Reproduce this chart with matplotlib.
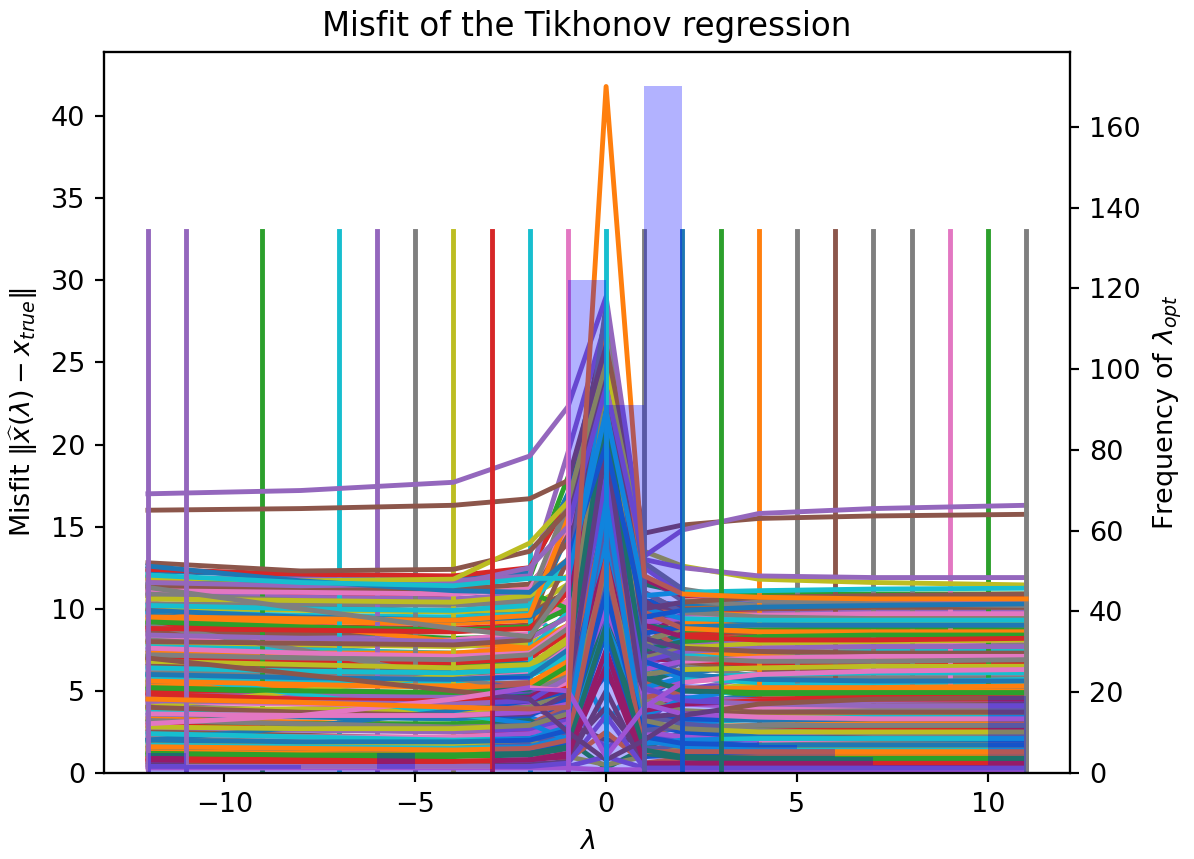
import matplotlib
matplotlib.use("Agg")
import matplotlib.pyplot as plt

plt.rcParams["lines.linewidth"] = 1.8

# lambda sample points of the misfit curves
lam_pts = [-12, -8, -4, -2, -1, 0, 1, 2, 4, 7, 11]

# prominent curves (value at each lam_pts)
purple_top = [17.0, 17.2, 17.7, 19.3, 22.3, 29.0, 13.2, 14.8, 15.8, 16.1, 16.3]
brown_top = [16.0, 16.1, 16.3, 16.7, 17.8, 26.0, 14.6, 15.1, 15.5, 15.65, 15.75]
brown_second = [12.8, 12.3, 12.4, 13.5, 16.0, 24.0, 10.0, 10.4, 10.7, 10.8, 10.9]
olive_upper = [11.9, 11.7, 11.8, 14.0, 16.5, 25.0, 13.5, 12.6, 11.8, 11.6, 11.45]
purple_right = [11.6, 11.4, 11.5, 12.5, 15.0, 23.5, 13.0, 12.5, 12.0, 11.9, 11.9]
cyan_flat = [12.05, 11.6, 11.4, 11.85, 11.85, 22.0, 10.8, 11.0, 11.1, 11.2, 11.25]
blue_upper = [12.6, 11.7, 11.1, 11.0, 13.0, 20.0, 9.5, 9.9, 10.1, 10.2, 10.3]
orange_spike = [4.5, 4.3, 4.0, 3.9, 4.0, 41.8, 12.0, 10.9, 10.7, 10.6, 10.6]

# the bulk of the misfit curves
bulk_curves = [
    [12.3, 12.0, 11.9, 12.2, 17.0, 27.0, 10.5, 10.2, 10.4, 10.5, 10.6],
    [11.8, 11.3, 11.0, 11.3, 13.0, 20.5, 9.8, 10.0, 10.1, 10.2, 10.2],
    [11.5, 11.6, 11.6, 11.9, 18.0, 23.0, 11.5, 11.0, 10.9, 10.9, 10.9],
    [11.2, 10.9, 10.6, 10.5, 9.5, 14.0, 8.5, 9.5, 9.9, 10.0, 10.0],
    [11.0, 10.7, 10.6, 10.9, 15.5, 25.5, 9.0, 9.6, 9.7, 9.8, 9.8],
    [10.8, 10.2, 9.8, 9.9, 11.0, 18.0, 7.0, 8.2, 8.8, 9.2, 9.4],
    [10.4, 9.2, 7.9, 7.3, 8.5, 21.0, 6.5, 7.5, 8.0, 8.3, 8.5],
    [10.3, 10.3, 10.2, 10.4, 16.0, 26.5, 12.0, 10.5, 10.2, 10.1, 10.1],
    [10.0, 9.9, 9.8, 10.0, 11.5, 19.5, 8.0, 9.0, 9.3, 9.4, 9.5],
    [9.8, 9.6, 9.5, 9.7, 8.0, 3.0, 6.0, 8.5, 9.0, 9.1, 9.2],
    [9.6, 9.3, 9.2, 9.4, 14.5, 22.0, 9.5, 9.3, 9.2, 9.2, 9.2],
    [9.3, 9.2, 9.1, 9.3, 10.5, 16.5, 10.0, 9.2, 8.9, 8.8, 8.8],
    [9.1, 8.6, 8.2, 8.3, 9.5, 24.5, 7.8, 8.4, 8.6, 8.7, 8.7],
    [8.9, 8.9, 8.8, 9.0, 10.0, 12.0, 8.8, 8.5, 8.5, 8.5, 8.5],
    [8.7, 8.4, 8.0, 7.8, 7.0, 15.0, 7.0, 7.8, 8.1, 8.2, 8.3],
    [8.5, 8.5, 8.6, 9.0, 15.0, 28.0, 10.5, 8.9, 8.4, 8.2, 8.1],
    [8.3, 8.1, 8.1, 8.5, 10.5, 20.0, 6.5, 7.5, 7.8, 7.9, 8.0],
    [8.1, 7.6, 7.2, 7.3, 6.0, 9.0, 5.5, 6.8, 7.3, 7.6, 7.8],
    [7.9, 7.8, 7.7, 7.9, 9.0, 17.5, 8.0, 7.7, 7.6, 7.6, 7.6],
    [7.7, 7.5, 7.3, 7.5, 9.8, 23.5, 7.3, 7.2, 7.3, 7.4, 7.4],
    [7.5, 7.1, 6.8, 6.7, 5.0, 11.0, 4.5, 6.0, 6.7, 7.0, 7.2],
    [7.3, 7.3, 7.3, 7.6, 8.5, 14.5, 9.0, 7.5, 7.1, 7.0, 7.0],
    [7.1, 6.8, 6.5, 6.6, 8.0, 21.5, 5.5, 6.3, 6.6, 6.7, 6.8],
    [6.9, 6.8, 6.7, 7.0, 8.5, 26.0, 7.0, 6.8, 6.6, 6.6, 6.6],
    [6.7, 6.3, 5.9, 5.8, 4.0, 1.5, 3.0, 5.0, 5.9, 6.2, 6.4],
    [6.5, 6.4, 6.3, 6.5, 7.5, 13.0, 7.5, 6.6, 6.3, 6.2, 6.2],
    [6.3, 6.0, 5.8, 6.0, 7.8, 18.5, 5.0, 5.6, 5.8, 5.9, 6.0],
    [6.1, 6.1, 6.0, 6.3, 8.0, 22.5, 8.5, 6.5, 5.9, 5.8, 5.8],
    [5.9, 5.6, 5.4, 5.5, 6.5, 10.0, 4.0, 5.0, 5.4, 5.5, 5.6],
    [5.7, 5.6, 5.6, 5.9, 7.0, 16.0, 6.5, 5.8, 5.5, 5.4, 5.4],
    [5.5, 5.1, 4.8, 4.8, 3.0, 6.0, 2.5, 4.2, 4.8, 5.0, 5.2],
    [5.3, 5.3, 5.3, 5.5, 6.8, 20.5, 5.5, 5.2, 5.1, 5.0, 5.0],
    [5.1, 4.9, 4.7, 4.9, 5.5, 12.5, 6.0, 5.0, 4.8, 4.8, 4.8],
    [4.9, 4.6, 4.4, 4.6, 6.0, 19.0, 4.0, 4.3, 4.5, 4.6, 4.6],
    [4.7, 4.7, 4.7, 5.0, 5.8, 8.0, 5.0, 4.6, 4.4, 4.4, 4.4],
    [4.5, 4.2, 4.0, 4.1, 3.0, 2.0, 2.0, 3.5, 4.0, 4.1, 4.2],
    [4.3, 4.2, 4.1, 4.3, 5.5, 15.0, 4.8, 4.2, 4.0, 4.0, 4.0],
    [4.1, 3.8, 3.6, 3.7, 4.5, 24.0, 3.0, 3.5, 3.7, 3.8, 3.8],
    [3.9, 3.9, 3.8, 4.0, 5.0, 11.5, 4.5, 3.8, 3.6, 3.6, 3.6],
    [3.7, 3.5, 3.3, 3.4, 2.5, 7.0, 2.0, 3.0, 3.3, 3.4, 3.4],
    [3.5, 3.4, 3.3, 3.5, 4.5, 17.0, 3.5, 3.3, 3.2, 3.2, 3.2],
    [3.3, 3.1, 2.9, 3.0, 4.0, 13.5, 2.5, 2.8, 2.9, 3.0, 3.0],
    [3.1, 3.0, 3.0, 3.2, 2.0, 0.3, 1.5, 2.5, 2.7, 2.8, 2.8],
    [2.9, 2.7, 2.5, 2.6, 3.5, 21.0, 3.0, 2.7, 2.6, 2.6, 2.6],
    [2.7, 2.6, 2.5, 2.7, 3.2, 9.5, 2.0, 2.3, 2.4, 2.4, 2.4],
    [2.5, 2.3, 2.1, 2.2, 1.5, 4.0, 1.0, 1.8, 2.1, 2.2, 2.2],
    [2.3, 2.2, 2.2, 2.4, 3.0, 18.0, 2.5, 2.2, 2.0, 2.0, 2.0],
    [2.1, 1.9, 1.7, 1.8, 2.5, 12.0, 1.5, 1.6, 1.7, 1.8, 1.8],
    [1.9, 1.8, 1.8, 2.0, 1.0, 0.5, 1.0, 1.5, 1.6, 1.6, 1.6],
    [1.7, 1.6, 1.5, 1.6, 2.2, 14.0, 2.0, 1.6, 1.4, 1.4, 1.4],
    [1.5, 1.4, 1.3, 1.4, 1.8, 8.5, 1.0, 1.1, 1.2, 1.2, 1.2],
    [1.3, 1.2, 1.1, 1.2, 0.8, 2.5, 0.6, 0.9, 1.0, 1.0, 1.0],
    [1.1, 1.0, 1.0, 1.1, 1.5, 10.5, 1.2, 0.9, 0.8, 0.8, 0.8],
    [0.9, 0.8, 0.7, 0.8, 1.2, 6.5, 0.5, 0.6, 0.6, 0.6, 0.6],
    [0.7, 0.6, 0.6, 0.7, 0.4, 1.0, 0.3, 0.4, 0.4, 0.4, 0.4],
    [0.5, 0.5, 0.4, 0.5, 0.7, 5.0, 0.4, 0.3, 0.3, 0.3, 0.3],
    [0.3, 0.3, 0.3, 0.3, 0.3, 0.2, 0.2, 0.2, 0.2, 0.2, 0.2],
    [9.0, 7.5, 5.8, 5.0, 6.0, 19.0, 3.5, 3.0, 2.6, 2.4, 2.3],
    [4.0, 5.0, 6.0, 6.5, 8.0, 15.0, 7.0, 7.6, 7.9, 8.0, 8.1],
    [6.0, 4.8, 3.6, 3.0, 2.0, 9.0, 3.5, 4.5, 5.2, 5.5, 5.7],
    [2.0, 2.8, 3.8, 4.4, 5.0, 16.0, 3.0, 2.5, 2.2, 2.1, 2.0],
    [10.0, 9.0, 8.0, 7.6, 9.0, 27.5, 11.0, 9.8, 9.6, 9.6, 9.6],
    [12.0, 11.5, 11.2, 11.0, 10.0, 21.0, 9.0, 8.7, 8.8, 8.9, 9.0],
    [12.4, 12.1, 12.0, 12.5, 16.5, 24.5, 11.8, 10.8, 10.6, 10.7, 10.8],
    [11.9, 11.8, 11.7, 12.0, 19.5, 27.5, 12.5, 10.9, 10.5, 10.4, 10.4],
    [11.4, 11.2, 11.2, 11.5, 14.0, 22.5, 10.2, 10.0, 10.0, 10.1, 10.1],
    [11.1, 11.0, 10.9, 11.2, 15.0, 19.0, 9.2, 9.4, 9.6, 9.7, 9.7],
    [10.9, 10.5, 10.3, 10.6, 16.5, 25.0, 11.0, 9.8, 9.5, 9.4, 9.4],
    [10.6, 10.5, 10.4, 10.8, 12.0, 17.0, 8.0, 8.8, 9.0, 9.1, 9.1],
    [10.2, 10.0, 9.9, 10.2, 13.0, 23.0, 10.0, 9.4, 9.3, 9.3, 9.3],
    [9.9, 9.5, 9.3, 9.5, 11.0, 21.0, 8.5, 8.9, 9.0, 9.0, 9.0],
    [9.5, 9.4, 9.3, 9.6, 15.5, 26.0, 9.8, 8.8, 8.6, 8.6, 8.6],
    [9.2, 8.9, 8.7, 8.9, 10.0, 18.5, 7.5, 8.0, 8.3, 8.4, 8.4],
    [8.8, 8.7, 8.6, 8.8, 11.0, 22.0, 9.0, 8.3, 8.1, 8.1, 8.2],
    [8.4, 8.2, 8.0, 8.2, 9.5, 16.0, 6.8, 7.4, 7.6, 7.7, 7.7],
    [8.0, 7.9, 7.8, 8.1, 13.0, 25.0, 8.2, 7.6, 7.4, 7.3, 7.3],
    [7.6, 7.3, 7.1, 7.3, 9.0, 19.5, 6.3, 6.8, 7.0, 7.1, 7.1],
    [7.2, 7.0, 6.9, 7.2, 8.8, 17.0, 7.8, 7.0, 6.8, 6.8, 6.9],
    [6.8, 6.6, 6.4, 6.6, 8.2, 23.0, 6.0, 6.3, 6.4, 6.5, 6.5],
    [6.4, 6.2, 6.1, 6.3, 7.2, 14.0, 5.2, 5.8, 6.0, 6.1, 6.1],
    [6.0, 5.8, 5.7, 5.9, 7.5, 20.0, 6.8, 6.0, 5.7, 5.6, 5.6],
    [5.6, 5.4, 5.2, 5.3, 6.2, 15.5, 4.6, 5.0, 5.2, 5.2, 5.3],
    [5.2, 5.0, 4.9, 5.1, 6.5, 22.0, 5.8, 5.0, 4.9, 4.9, 4.9],
    [4.8, 4.5, 4.3, 4.4, 5.2, 13.0, 3.8, 4.2, 4.4, 4.5, 4.5],
    [4.4, 4.3, 4.2, 4.4, 5.8, 18.0, 5.2, 4.4, 4.2, 4.1, 4.1],
    [4.0, 3.7, 3.5, 3.6, 4.8, 20.0, 3.4, 3.6, 3.7, 3.7, 3.7],
    [3.6, 3.5, 3.5, 3.7, 4.2, 10.0, 4.2, 3.6, 3.4, 3.3, 3.3],
    [3.2, 3.0, 2.8, 2.9, 3.8, 15.5, 2.6, 2.8, 2.9, 2.9, 2.9],
    [2.8, 2.7, 2.7, 2.9, 3.6, 12.5, 3.2, 2.7, 2.5, 2.5, 2.5],
    [2.4, 2.2, 2.0, 2.1, 2.8, 16.5, 1.8, 2.0, 2.1, 2.1, 2.1],
    [2.0, 1.9, 1.9, 2.0, 2.6, 11.0, 2.2, 1.8, 1.7, 1.7, 1.7],
    [1.6, 1.5, 1.4, 1.5, 2.0, 13.0, 1.3, 1.3, 1.3, 1.3, 1.3],
    [1.2, 1.1, 1.1, 1.2, 1.6, 9.0, 1.4, 1.0, 0.9, 0.9, 0.9],
    [0.8, 0.7, 0.7, 0.8, 1.0, 7.5, 0.6, 0.6, 0.5, 0.5, 0.5],
    [0.4, 0.4, 0.4, 0.4, 0.6, 3.5, 0.3, 0.3, 0.3, 0.3, 0.3],
    [7.0, 6.0, 5.0, 4.5, 2.5, 0.8, 2.0, 3.5, 4.2, 4.5, 4.6],
    [3.0, 3.5, 4.5, 5.2, 5.0, 1.0, 4.0, 5.5, 6.0, 6.2, 6.3],
    [11.3, 10.0, 8.8, 8.3, 11.5, 28.5, 12.8, 11.2, 10.5, 10.3, 10.2],
]

# vertical marker lines: lambda position, colour
vline_lams_under = [-9, -7, -6, -5, -4, -2, 4, 5, 6, 7, 8, 9, 10]
vline_cols_under = ["tab:green", "tab:cyan", "tab:purple", "tab:gray", "tab:olive",
                    "tab:cyan", "tab:orange", "tab:gray", "tab:brown", "tab:gray",
                    "tab:gray", "tab:pink", "tab:green"]
vline_lams_over = [-12, -11, -3, -1, 0, 1, 2, 3, 11]
vline_cols_over = ["tab:purple", "tab:purple", "tab:red", "tab:pink", "tab:cyan",
                   "tab:gray", "tab:blue", "tab:green", "tab:gray"]
vline_top = 33.0

# histogram of lambda_opt (unit bins, left edges)
hist_left = [-12, -11, -10, -9, -8, -7, -6, -5, -4, -3, -2, -1, 0, 1, 2, 3, 4, 5, 6, 7, 8, 9, 10]
hist_counts = [5, 2, 2, 2, 1, 1, 5, 1, 1, 24, 21, 122, 91, 170, 22, 8, 7, 6, 4, 2, 2, 2, 19]

W, H, DPI = 1194, 859, 195
fig = plt.figure(figsize=(W / DPI, H / DPI), dpi=DPI)
ax = fig.add_axes([104 / W, (H - 773) / H, (1070 - 104) / W, (773 - 52) / H])

n_first = 30
for vals in bulk_curves[:n_first]:
    ax.plot(lam_pts, vals)
for xv, c in zip(vline_lams_under, vline_cols_under):
    ax.plot([xv, xv], [0, vline_top], color=c)
for vals in bulk_curves[n_first:]:
    ax.plot(lam_pts, vals)
ax.plot(lam_pts, brown_second, color="tab:brown")
ax.plot(lam_pts, olive_upper, color="tab:olive")
ax.plot(lam_pts, purple_right, color="tab:purple")
ax.plot(lam_pts, blue_upper, color="tab:blue")
ax.plot(lam_pts, cyan_flat, color="tab:cyan")
ax.plot(lam_pts, brown_top, color="tab:brown")
ax.plot(lam_pts, purple_top, color="tab:purple")
for xv, c in zip(vline_lams_over, vline_cols_over):
    ax.plot([xv, xv], [0, vline_top], color=c)
ax.plot(lam_pts, orange_spike, color="tab:orange")

ax.set_xlim(-13.15, 12.15)
ax.set_ylim(0, 43.9)
ax.set_xlabel(r"$\lambda$")
ax.set_ylabel(r"Misfit $\|\widehat{x}(\lambda) - x_{true}\|$")
ax.set_title("Misfit of the Tikhonov regression")

ax2 = ax.twinx()
ax2.bar(hist_left, hist_counts, width=1.0, align="edge", color="blue", alpha=0.3, linewidth=0)
ax2.set_ylim(0, 178.5)
ax2.set_ylabel(r"Frequency of $\lambda_{opt}$")

fig.savefig("out.png", dpi=DPI)
